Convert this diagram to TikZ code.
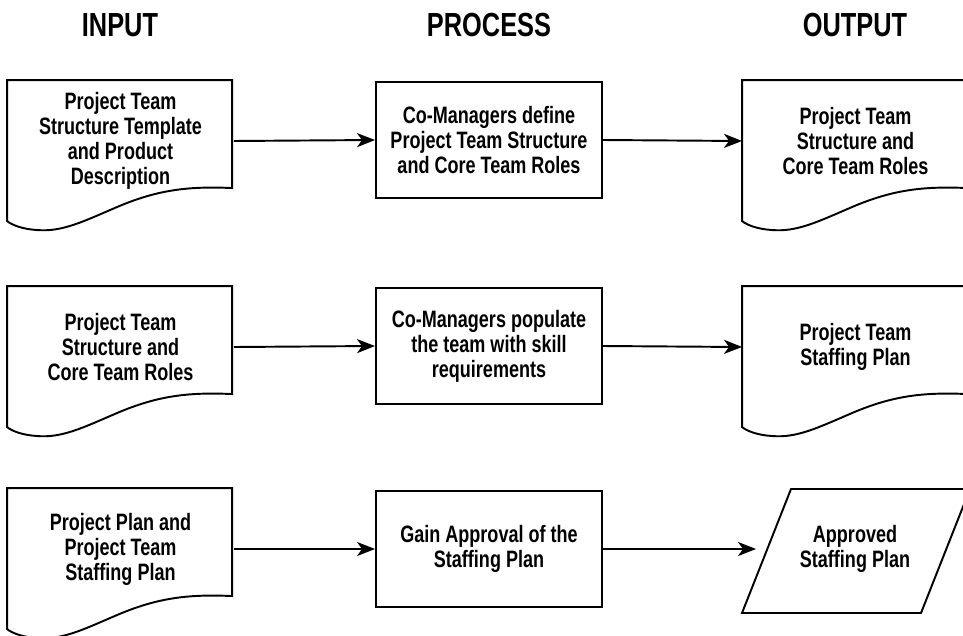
\documentclass[tikz,border=0pt]{standalone}
\usepackage{fontspec}
\setmainfont{Liberation Sans}[FakeStretch=0.76]
\usepackage{tikz}
\usetikzlibrary{arrows.meta}

\begin{document}
\begin{tikzpicture}[
        line width=1.1pt,
        heading/.style={anchor=base, font=\fontsize{19}{22}\selectfont\bfseries},
        boxtext/.style={align=center, font=\fontsize{13.5}{14.2}\selectfont\bfseries},
        docnode/.style={boxtext, minimum width=4.5cm, minimum height=2.4cm, inner sep=0pt},
        procbox/.style={boxtext, draw, minimum width=4.52cm, minimum height=2.32cm, inner sep=0pt},
        flow/.style={-{Stealth[length=3.6mm, width=2.8mm, inset=1mm]}}
    ]
        \useasboundingbox (0.0, 0.0) rectangle (19.26, -12.7);
        \clip (0.0, 0.0) rectangle (19.26, -12.7);

        \node [heading] (hin) at (2.40, -0.72) {INPUT};
        \node [heading] (hproc) at (9.78, -0.72) {PROCESS};
        \node [heading] (hout) at (17.10, -0.72) {OUTPUT};

        % first row
        \node [docnode] (in1) at (2.41, -2.82) {Project Team\\Structure Template\\and Product\\Description};
        \node [procbox] (pr1) at (9.78, -2.80) {Co-Managers define\\Project Team Structure\\and Core Team Roles};
        \node [docnode] (out1) at (17.11, -2.82) {Project Team\\Structure and\\Core Team Roles};
        \draw [shift={(in1.north west)}] (0.0, 0.0) -- (4.5, 0.0) -- (4.5, -2.16) .. controls (3.6, -2.12) and (3.0, -2.2) .. (2.2, -2.54) .. controls (1.5, -2.84) and (1.1, -3.04) .. (0.6, -3.0) .. controls (0.3, -2.98) and (0.1, -2.9) .. (0.0, -2.82) -- cycle; % input document
        \draw [shift={(out1.north west)}] (0.0, 0.0) -- (4.5, 0.0) -- (4.5, -2.16) .. controls (3.6, -2.12) and (3.0, -2.2) .. (2.2, -2.54) .. controls (1.5, -2.84) and (1.1, -3.04) .. (0.6, -3.0) .. controls (0.3, -2.98) and (0.1, -2.9) .. (0.0, -2.82) -- cycle; % output document
        \draw [flow] (in1.east) -- (pr1.west);
        \draw [flow] (pr1.east) -- (out1.west);

        % second row
        \node [docnode] (in2) at (2.41, -6.94) {Project Team\\Structure and\\Core Team Roles};
        \node [procbox] (pr2) at (9.78, -6.92) {Co-Managers populate\\the team with skill\\requirements};
        \node [docnode] (out2) at (17.11, -6.94) {Project Team\\Staffing Plan};
        \draw [shift={(in2.north west)}] (0.0, 0.0) -- (4.5, 0.0) -- (4.5, -2.16) .. controls (3.6, -2.12) and (3.0, -2.2) .. (2.2, -2.54) .. controls (1.5, -2.84) and (1.1, -3.04) .. (0.6, -3.0) .. controls (0.3, -2.98) and (0.1, -2.9) .. (0.0, -2.82) -- cycle; % input document
        \draw [shift={(out2.north west)}] (0.0, 0.0) -- (4.5, 0.0) -- (4.5, -2.16) .. controls (3.6, -2.12) and (3.0, -2.2) .. (2.2, -2.54) .. controls (1.5, -2.84) and (1.1, -3.04) .. (0.6, -3.0) .. controls (0.3, -2.98) and (0.1, -2.9) .. (0.0, -2.82) -- cycle; % output document
        \draw [flow] (in2.east) -- (pr2.west);
        \draw [flow] (pr2.east) -- (out2.west);

        % third row
        \node [docnode] (in3) at (2.41, -10.98) {Project Plan and\\Project Team\\Staffing Plan};
        \node [procbox] (pr3) at (9.78, -10.98) {Gain Approval of the\\Staffing Plan};
        \node [boxtext, minimum width=3.92cm, minimum height=2.4cm, inner sep=0pt] (out3) at (17.10, -10.98) {Approved\\Staffing Plan};
        \draw [shift={(in3.north west)}] (0.0, 0.0) -- (4.5, 0.0) -- (4.5, -2.16) .. controls (3.6, -2.12) and (3.0, -2.2) .. (2.2, -2.54) .. controls (1.5, -2.84) and (1.1, -3.04) .. (0.6, -3.0) .. controls (0.3, -2.98) and (0.1, -2.9) .. (0.0, -2.82) -- cycle; % input document
        \draw (14.84, -12.26) -- (18.42, -12.26) -- (19.40, -9.78) -- (15.82, -9.78) -- cycle; % output data
        \draw [flow] (in3.east) -- (pr3.west);
        \draw [flow] (pr3.east) -- (out3.west);
    \end{tikzpicture}
\end{document}
